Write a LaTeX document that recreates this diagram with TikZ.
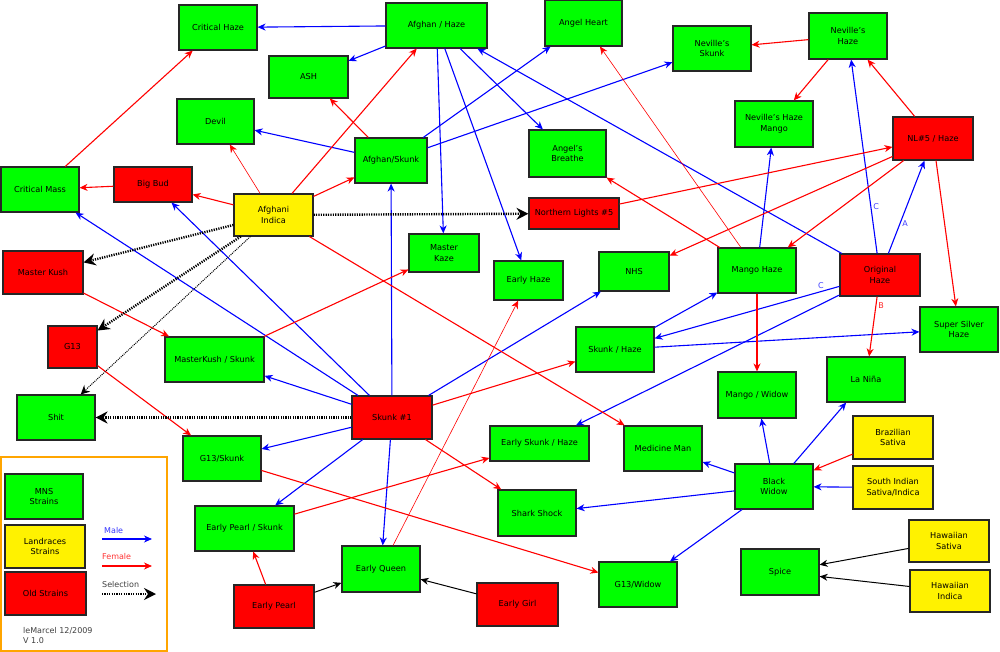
\documentclass[tikz,border=0pt]{standalone}
\usepackage{fontspec}
\setmainfont{DejaVu Sans}
\usetikzlibrary{arrows.meta}
\definecolor{legendorange}{RGB}{255,165,0}

\tikzset{
  strain/.style={draw=black!85, line width=1.1pt, minimum width=78pt, minimum height=45pt,
    align=center, inner sep=1pt, font=\fontsize{8.2}{10.6}\selectfont},
  mns/.style={strain, fill=green},
  landrace/.style={strain, fill=yellow},
  oldstrain/.style={strain, fill=red},
  boxsize/.style 2 args={minimum width=#1pt, minimum height=#2pt},
  tip/.style={-{Stealth[length=8pt,width=7pt,inset=2.5pt]}},
  male/.style={tip, draw=blue, line width=1.1pt},
  female/.style={tip, draw=red, line width=1.1pt},
  thinfemale/.style={female, line width=0.6pt},
  plain/.style={tip, draw=black, line width=1pt},
  selection/.style={draw=black, line width=2.4pt, dash pattern=on 1.2pt off 1.2pt,
    -{Stealth[length=12pt,width=12pt,inset=4pt]}},
  thinselection/.style={draw=black, line width=1pt, dash pattern=on 1pt off 1pt,
    -{Stealth[length=9pt,width=9pt,inset=3pt]}},
  cross/.style={font=\fontsize{8}{9}\selectfont, inner sep=2pt},
}

\begin{document}
\begin{tikzpicture}[x=1pt, y=-1pt]
\useasboundingbox[fill=white] (0,0) rectangle (1000,652);

% strains, top part
\node[mns] (crithaze) at (218,27.5) {Critical Haze};
\node[mns, boxsize={79}{42}] (ash) at (308.5,77) {ASH};
\node[mns, boxsize={77}{45}] (devil) at (215.5,121.5) {Devil};
\node[mns] (critmass) at (40,189.5) {Critical Mass};
\node[oldstrain, boxsize={78}{35}] (bigbud) at (153,184.5) {Big Bud};
\node[landrace, boxsize={79}{42}] (afghani) at (273.5,215) {Afghani\\Indica};
\node[oldstrain, boxsize={80}{43}] (masterkush) at (43,272.5) {Master Kush};
\node[oldstrain, boxsize={49}{42}] (g13) at (72.5,347) {G13};
\node[mns, boxsize={101}{45}] (afhaze) at (436.5,25.5) {Afghan / Haze};
\node[mns, boxsize={77}{46}] (angelheart) at (583.5,23) {Angel Heart};
\node[mns, boxsize={72}{45}] (afskunk) at (391,160.5) {Afghan/Skunk};
\node[mns, boxsize={77}{47}] (angelbreathe) at (567.5,153.5) {Angel's\\Breathe};
\node[oldstrain, boxsize={90}{31}] (nl5) at (574,213.5) {Northern Lights \#5};
\node[mns, boxsize={70}{38}] (masterkaze) at (444,253) {Master\\Kaze};
\node[mns, boxsize={69}{39}] (earlyhaze) at (528.5,280.5) {Early Haze};
\node[mns, boxsize={70}{39}] (nhs) at (634,271.5) {NHS};
\node[mns] (nevskunk) at (712,48.5) {Neville's\\Skunk};
\node[mns, boxsize={78}{46}] (nevhaze) at (848,36) {Neville's\\Haze};
\node[mns, boxsize={78}{46}] (nevmango) at (774,124) {Neville's Haze\\Mango};
\node[oldstrain, boxsize={80}{43}] (nl5haze) at (933,138.5) {NL\#5 / Haze};
\node[mns] (mangohaze) at (757,270.5) {Mango Haze};
\node[oldstrain, boxsize={80}{42}] (orighaze) at (880,275) {Original\\Haze};
\node[mns] (supersilver) at (959,329.5) {Super Silver\\Haze};

% strains, bottom part
\node[mns, boxsize={99}{45}] (mkskunk) at (214.5,359.5) {MasterKush / Skunk};
\node[mns] (shit) at (56,417.5) {Shit};
\node[mns] (g13skunk) at (222,458.5) {G13/Skunk};
\node[mns, boxsize={99}{45}] (epskunk) at (244.5,528.5) {Early Pearl / Skunk};
\node[oldstrain, boxsize={80}{43}] (earlypearl) at (274,606.5) {Early Pearl};
\node[mns] (skhaze) at (615,349.5) {Skunk / Haze};
\node[oldstrain, boxsize={80}{43}] (skunk1) at (392,417.5) {Skunk \#1};
\node[mns, boxsize={99}{35}] (eskhaze) at (539.5,443.5) {Early Skunk / Haze};
\node[mns] (medicine) at (663,448.5) {Medicine Man};
\node[mns, boxsize={78}{46}] (shark) at (537,513) {Shark Shock};
\node[mns, boxsize={78}{46}] (earlyqueen) at (381,569) {Early Queen};
\node[oldstrain, boxsize={81}{43}] (earlygirl) at (517.5,604.5) {Early Girl};
\node[mns] (g13widow) at (638,584.5) {G13/Widow};
\node[mns, boxsize={78}{46}] (mangowidow) at (757,395) {Mango / Widow};
\node[mns] (lanina) at (866,379.5) {La Niña};
\node[landrace, boxsize={80}{43}] (brazil) at (893,437.5) {Brazilian\\Sativa};
\node[landrace, boxsize={80}{43}] (southind) at (893,487.5) {South Indian\\Sativa/Indica};
\node[mns] (blackwidow) at (774,486.5) {Black\\Widow};
\node[mns, boxsize={78}{46}] (spice) at (780,572) {Spice};
\node[landrace, boxsize={80}{42}] (hawsativa) at (949,541) {Hawaiian\\Sativa};
\node[landrace, boxsize={80}{42}] (hawindica) at (950,591) {Hawaiian\\Indica};

% male crosses
\draw[male] (afhaze) -- (crithaze);
\draw[male] (afhaze) -- (ash);
\draw[male] (afhaze) -- (masterkaze);
\draw[male] (afhaze) -- (earlyhaze);
\draw[male] (afhaze) -- (angelbreathe);
\draw[male] (orighaze) -- (afhaze);
\draw[male] (afskunk) -- (devil);
\draw[male] (afskunk) -- (angelheart);
\draw[male] (afskunk) -- (nevskunk);
\draw[male] (skunk1) -- (afskunk);
\draw[male] (skunk1) -- (critmass);
\draw[male] (skunk1) -- (bigbud);
\draw[male] (skunk1) -- (mkskunk);
\draw[male] (skunk1) -- (g13skunk);
\draw[male] (skunk1) -- (epskunk);
\draw[male] (skunk1) -- (earlyqueen);
\draw[male] (skunk1) -- (nhs);
\draw[male] (skhaze) -- (mangohaze);
\draw[male] (skhaze) -- (supersilver);
\draw[male] (orighaze) -- (skhaze) node[cross, pos=0.1, above, blue!75] {C};
\draw[male] (orighaze) -- (eskhaze);
\draw[male] (orighaze) -- (nevhaze) node[cross, pos=0.24, right, blue!75] {C};
\draw[male] (orighaze) -- (nl5haze) node[cross, pos=0.32, right, blue!75] {A};
\draw[male] (mangohaze) -- (nevmango);
\draw[male] (blackwidow) -- (mangowidow);
\draw[male] (blackwidow) -- (lanina);
\draw[male] (blackwidow) -- (medicine);
\draw[male] (blackwidow) -- (shark);
\draw[male] (blackwidow) -- (g13widow);
\draw[male] (southind) -- (blackwidow);

% female crosses
\draw[female] (critmass) -- (crithaze);
\draw[female] (bigbud) -- (critmass);
\draw[female] (afghani) -- (bigbud);
\draw[thinfemale] (afghani) -- (devil);
\draw[female] (afghani) -- (afhaze);
\draw[female] (afghani) -- (afskunk);
\draw[female] (afghani) -- (medicine);
\draw[female] (afskunk) -- (ash);
\draw[female] (masterkush) -- (mkskunk);
\draw[female] (mkskunk) -- (masterkaze);
\draw[female] (g13) -- (g13skunk);
\draw[female] (g13skunk) -- (g13widow);
\draw[female] (epskunk) -- (eskhaze);
\draw[female] (earlypearl) -- (epskunk);
\draw[thinfemale] (earlyqueen) -- (earlyhaze);
\draw[female] (skunk1) -- (skhaze);
\draw[female] (skunk1) -- (shark);
\draw[thinfemale] (mangohaze) -- (angelheart);
\draw[female] (mangohaze) -- (angelbreathe);
\draw[female] (nl5) -- (nl5haze);
\draw[female] (nl5haze) -- (nhs);
\draw[female] (nl5haze) -- (mangohaze);
\draw[female] (nl5haze) -- (nevhaze);
\draw[female] (nl5haze) -- (supersilver);
\draw[female] (nevhaze) -- (nevskunk);
\draw[female] (nevhaze) -- (nevmango);
\draw[female] (mangohaze) -- (mangowidow);
\draw[female] (orighaze) -- (lanina) node[cross, pos=0.15, right, red!85] {B};
\draw[female] (brazil) -- (blackwidow);

% plain lines
\draw[plain] (earlypearl) -- (earlyqueen);
\draw[plain] (earlygirl) -- (earlyqueen);
\draw[plain] (hawsativa) -- (spice);
\draw[plain] (hawindica) -- (spice);

% selections
\draw[selection] (afghani) -- (nl5);
\draw[selection] (afghani) -- (masterkush);
\draw[selection] (afghani) -- (g13);
\draw[thinselection] (afghani) -- (shit);
\draw[selection] (skunk1) -- (shit);

% legend
\draw[legendorange, line width=1.6pt] (1,457) rectangle (167,651);
\node[mns] (legmns) at (44,496.5) {MNS\\Strains};
\node[landrace, boxsize={80}{43}] (legland) at (45,546.5) {Landraces\\Strains};
\node[oldstrain, boxsize={81}{43}] (legold) at (45.5,593.5) {Old Strains};
\coordinate (maleA) at (102,539);   \coordinate (maleB) at (152,539);
\coordinate (femA) at (102,566);    \coordinate (femB) at (152,566);
\coordinate (selA) at (102,594);    \coordinate (selB) at (156,594);
\draw[male] (maleA) -- (maleB);
\draw[female] (femA) -- (femB);
\draw[selection] (selA) -- (selB);
\node[cross, anchor=west, blue!80] (maletxt) at (102,531) {Male};
\node[cross, anchor=west, red!80] (femtxt) at (100,557) {Female};
\node[cross, anchor=west, black!75] (seltxt) at (100,585) {Selection};
\node[cross, anchor=west, align=left, black!75, font=\fontsize{8}{10}\selectfont] (author) at (21,636) {leMarcel 12/2009\\V 1.0};
\end{tikzpicture}
\end{document}
